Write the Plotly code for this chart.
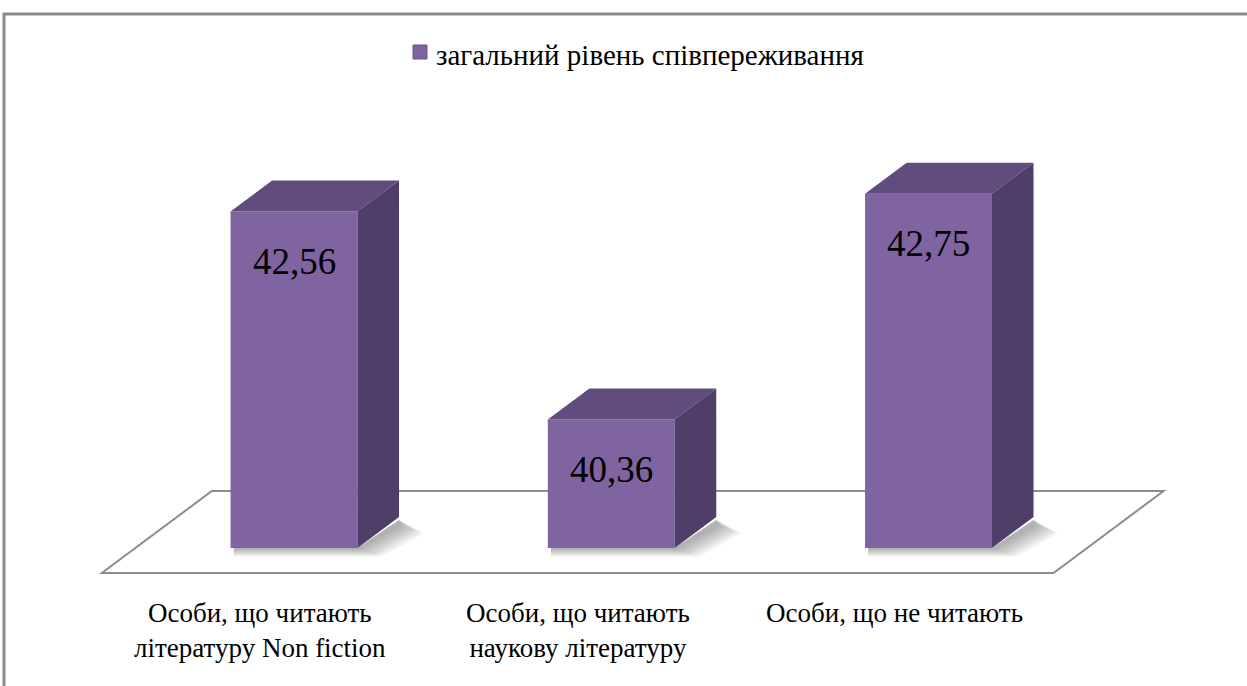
import plotly.graph_objects as go

# ---- data ----
categories = ["Особи, що читають<br>літературу Non fiction",
              "Особи, що читають<br>наукову літературу",
              "Особи, що не читають"]
values = [42.56, 40.36, 42.75]
series_name = "загальний рівень співпереживання"
axis_min = 39.0

# ---- styling / geometry constants ----
W, H = 1247, 686
ML, MR, MT, MB = 10, 10, 20, 100
PW, PH = W - ML - MR, H - MT - MB
PX_PER_X = 317.25        # px per category step
PX_PER_Y = 94.5          # px per value unit
X0_PX, BASE_PX = 294, 548  # pixel of category 0 / axis base
x_rng = [-(X0_PX - ML) / PX_PER_X, -(X0_PX - ML) / PX_PER_X + PW / PX_PER_X]
y_top = axis_min + (BASE_PX - MT) / PX_PER_Y
y_rng = [y_top - PH / PX_PER_Y, y_top]

BAR_W = 0.4
FDX, FDY = 110 / PX_PER_X, 82 / PX_PER_Y   # full floor depth offsets (data units)
T_F, T_B = 0.305, 0.683                      # bar front/back depth fractions
BDX, BDY = (T_B - T_F) * FDX, (T_B - T_F) * FDY

FRONT = "#8064A2"
TOP = "#604C7D"
SIDE = "#4F3E68"
FONT = "Liberation Serif"


def py2paper(py):
    return (H - MB - py) / PH


def px2paper(px):
    return (px - ML) / PW


def path(pts):
    return "M " + " L ".join(f"{x},{y}" for x, y in pts) + " Z"


xs = list(range(len(values)))
fig = go.Figure()

# front faces
fig.add_trace(go.Bar(
    x=xs, y=[v - axis_min for v in values], base=axis_min, width=BAR_W,
    marker=dict(color=FRONT, line=dict(width=0)), name=series_name,
    showlegend=False, hoverinfo="skip"))

# top and side faces
for i, v in zip(xs, values):
    l, r = i - BAR_W / 2, i + BAR_W / 2
    top = [(l, v), (r, v), (r + BDX, v + BDY), (l + BDX, v + BDY), (l, v)]
    side = [(r, axis_min), (r, v), (r + BDX, v + BDY), (r + BDX, axis_min + BDY), (r, axis_min)]
    for pts, col in ((top, TOP), (side, SIDE)):
        fig.add_trace(go.Scatter(
            x=[p[0] for p in pts], y=[p[1] for p in pts], mode="lines",
            fill="toself", fillcolor=col, line=dict(width=0, color=col),
            showlegend=False, hoverinfo="skip"))

shapes = []
# floor
n = len(values)
fx0, fx1 = -0.5, n - 0.5
floor = [(fx0 - T_F * FDX, axis_min - T_F * FDY), (fx1 - T_F * FDX, axis_min - T_F * FDY),
         (fx1 + (1 - T_F) * FDX, axis_min + (1 - T_F) * FDY),
         (fx0 + (1 - T_F) * FDX, axis_min + (1 - T_F) * FDY)]
shapes.append(dict(type="path", path=path(floor), xref="x", yref="y", layer="below",
                   fillcolor="white", line=dict(color="#8c8c8c", width=2)))
# soft shadows
for k in range(7, 0, -1):
    for i in xs:
        l, r = i - BAR_W / 2, i + BAR_W / 2
        sx, sy = k * 3.5 / PX_PER_X, k * 1.2 / PX_PER_Y
        pts = [(l + 0.01, axis_min - sy), (r + sx, axis_min - sy),
               (r + BDX + sx, axis_min + BDY * 0.75 - sy),
               (r + BDX, axis_min + BDY * 0.9), (r, axis_min), (l + 0.01, axis_min)]
        shapes.append(dict(type="path", path=path(pts), xref="x", yref="y", layer="below",
                           fillcolor="rgba(70,70,70,0.07)", line=dict(width=0)))
# outer frame
shapes.append(dict(type="rect", xref="paper", yref="paper",
                   x0=px2paper(4), x1=px2paper(1262), y0=py2paper(702), y1=py2paper(14),
                   line=dict(color="#8c8c8c", width=3), fillcolor="rgba(0,0,0,0)"))
# legend symbol
shapes.append(dict(type="rect", xref="paper", yref="paper",
                   x0=px2paper(413), x1=px2paper(427), y0=py2paper(59), y1=py2paper(45),
                   line=dict(color="#6a5290", width=1), fillcolor=FRONT))

annotations = []
annotations.append(dict(x=px2paper(434), y=py2paper(55), xref="paper", yref="paper",
                        xanchor="left", yanchor="middle", text=series_name, showarrow=False,
                        font=dict(family=FONT, size=29, color="black")))
for i, v in zip(xs, values):
    annotations.append(dict(x=i, y=v, xref="x", yref="y", yshift=-50,
                            text=f"{v:.2f}".replace(".", ","), showarrow=False,
                            font=dict(family=FONT, size=37, color="black")))
for i, c in zip(xs, categories):
    annotations.append(dict(x=i - T_F * FDX, y=py2paper(596), xref="x", yref="paper",
                            yanchor="top", text=c, showarrow=False,
                            font=dict(family=FONT, size=27, color="black")))

fig.update_layout(
    width=W, height=H, margin=dict(l=ML, r=MR, t=MT, b=MB),
    paper_bgcolor="white", plot_bgcolor="white",
    xaxis=dict(range=x_rng, visible=False, fixedrange=True),
    yaxis=dict(range=y_rng, visible=False, fixedrange=True),
    shapes=shapes, annotations=annotations,
    showlegend=False,
)
fig.write_html("out.html", config={"displayModeBar": False},
               post_script="document.body.style.margin='0';document.body.style.overflow='hidden';")
